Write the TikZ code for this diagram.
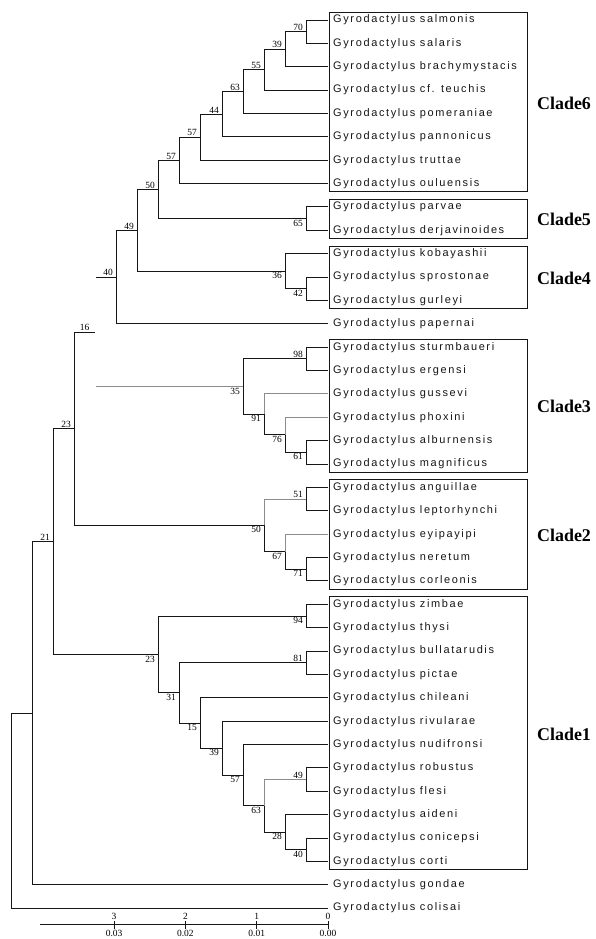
\documentclass[tikz,border=0pt]{standalone}
\usepackage{fontspec}
\usepackage{tikz}
\usetikzlibrary{calc}
\newfontfamily\leaffont[LetterSpace=15]{Liberation Sans}
\newfontfamily\numfont{Liberation Serif}
\definecolor{ink}{HTML}{161616}
\definecolor{soft}{HTML}{8C8C8C}
\tikzset{
  br/.style={draw=ink, line width=1pt},
  brg/.style={draw=soft, line width=1pt},
  box/.style={draw=ink, line width=1pt},
  leaf/.style={anchor=west, inner xsep=5pt, inner ysep=0pt, text=ink, font=\leaffont\fontsize{11}{12}\selectfont},
  bsa/.style={anchor=south east, inner sep=1pt, xshift=-2pt, font=\numfont\fontsize{9.5}{10}\selectfont},
  bsb/.style={anchor=north east, inner sep=1pt, xshift=-2pt, font=\numfont\fontsize{9.5}{10}\selectfont},
  tick/.style={inner sep=1pt, font=\numfont\fontsize{9.5}{10}\selectfont},
  clade/.style={font=\numfont\bfseries\fontsize{18}{20}\selectfont},
}

\begin{document}
\begin{tikzpicture}[x=1bp, y=-23.37bp]
  \useasboundingbox (0,-0.856) rectangle (595,39.32);
  % leaves, one row each
  \foreach \X/\sp [count=\i from 0] in {salmonis/salmonis, salaris/salaris,
      brachymystacis/brachymystacis, teuchis/cf. teuchis, pomeraniae/pomeraniae,
      pannonicus/pannonicus, truttae/truttae, ouluensis/ouluensis, parvae/parvae,
      derjavinoides/derjavinoides, kobayashii/kobayashii, sprostonae/sprostonae,
      gurleyi/gurleyi, papernai/papernai, sturmbaueri/sturmbaueri, ergensi/ergensi,
      gussevi/gussevi, phoxini/phoxini, alburnensis/alburnensis, magnificus/magnificus,
      anguillae/anguillae, leptorhynchi/leptorhynchi, eyipayipi/eyipayipi,
      neretum/neretum, corleonis/corleonis, zimbae/zimbae, thysi/thysi,
      bullatarudis/bullatarudis, pictae/pictae, chileani/chileani, rivularae/rivularae,
      nudifronsi/nudifronsi, robustus/robustus, flesi/flesi, aideni/aideni,
      conicepsi/conicepsi, corti/corti, gondae/gondae, colisai/colisai}
    \node[leaf] (\X) at (328,\i) {Gyrodactylus \sp};
  % internal nodes
  \foreach \X/\x/\y in {b70/306/0.5, b39/285/1.25, b55/264/2.125, b63/243/3.0625,
      b44/222/4.031, b57u/200/5.016, b57l/179/6.008, b65/306/8.5, b50/158/7.254,
      b42/306/11.5, b36/285/10.75, b49/137/9.002, b40/116/11.001, s40/96/11.001,
      b98/306/14.5, b61/306/18.5, b76/285/17.75, b91/264/16.875, b35/243/15.688,
      s35/96/15.688, b51/306/20.5, b71/306/23.5, b67/285/22.75, b50c/264/21.625,
      s16/95/13.35, b16/74/17.49, b94/306/25.5, b81/306/27.5, b49c/306/32.5,
      b40c/306/35.5, b28/285/34.75, b63c/264/33.625, b57c/243/32.31, b39c/222/31.16,
      b15/200/30.08, b31/179/28.79, b23c/158/27.15, b23/53/22.32, b21/32/29.66,
      root/11/33.83}
    \coordinate (\X) at (\x,\y);
  % branches
  \foreach \P/\C in {b70/salmonis, b70/salaris, b39/b70, b39/brachymystacis, b55/b39,
      b55/teuchis, b63/b55, b63/pomeraniae, b44/b63, b44/pannonicus, b57u/b44,
      b57u/truttae, b57l/b57u, b57l/ouluensis, b65/parvae, b65/derjavinoides,
      b50/b57l, b50/b65, b42/sprostonae, b42/gurleyi, b36/kobayashii, b36/b42,
      b49/b50, b49/b36, b40/b49, b40/papernai, b98/sturmbaueri, b98/ergensi,
      b61/alburnensis, b61/magnificus, b76/b61, b91/b76, b35/b91, b35/b98,
      b51/anguillae, b51/leptorhynchi, b71/neretum, b71/corleonis, b67/b71,
      b50c/b67, b16/s16, b16/b50c, b94/zimbae, b94/thysi, b81/bullatarudis,
      b81/pictae, b49c/robustus, b49c/flesi, b40c/conicepsi, b40c/corti,
      b28/aideni, b28/b40c, b63c/b28, b57c/nudifronsi, b57c/b63c, b39c/rivularae,
      b39c/b57c, b15/chileani, b15/b39c, b31/b81, b31/b15, b23c/b94, b23c/b31,
      b23/b16, b23/b23c, b21/b23, b21/gondae, root/b21, root/colisai}
    \draw[br] (\P) |- (\C);
  \foreach \P/\C in {b91/gussevi, b76/phoxini, b50c/b51, b67/eyipayipi, b63c/b49c}
    \draw[brg] (\P) |- (\C);
  \draw[br] (s40) -- (b40);
  \draw[brg] (s35) -- (b35);
  % bootstrap values
  \foreach \X/\v in {b70/70, b39/39, b55/55, b63/63, b44/44, b57u/57, b57l/57,
      b50/50, b49/49, b40/40, b98/98, b51/51, b81/81, b49c/49, b16/23, b23/21}
    \node[bsa] (l\X) at (\X) {\v};
  \foreach \X/\v in {b65/65, b36/36, b42/42, b35/35, b91/91, b76/76, b61/61,
      b50c/50, b67/67, b71/71, b94/94, b23c/23, b31/31, b15/15, b39c/39, b57c/57,
      b63c/63, b28/28, b40c/40}
    \node[bsb] (l\X) at (\X) {\v};
  \node[tick, anchor=south] (ls16) at ([xshift=-10.5bp]s16) {16};
  % clades
  \foreach \a/\b/\k in {0/7/6, 8/9/5, 10/12/4, 14/19/3, 20/24/2, 25/36/1} {
    \draw[box] (329,\a-0.33) rectangle (527,\b+0.35);
    \node[clade] (clade\k) at (564,{(\a+\b)/2+0.05}) {Clade\k};
  }
  % scale bar
  \coordinate (sbl) at (40,38.72);
  \coordinate (sbr) at (328,38.72);
  \draw[br] (sbl) -- (sbr);
  \foreach \k in {0,...,3} {
    \coordinate (t\k) at ({328-71.3*\k},38.72);
    \draw[br] ([yshift=4pt]t\k) -- ([yshift=-4pt]t\k);
    \node[tick, anchor=south] (tk\k) at ([yshift=4pt]t\k) {\k};
    \node[tick, anchor=north] (tv\k) at ([yshift=-4pt]t\k) {0.0\k};
  }
\end{tikzpicture}
\end{document}
